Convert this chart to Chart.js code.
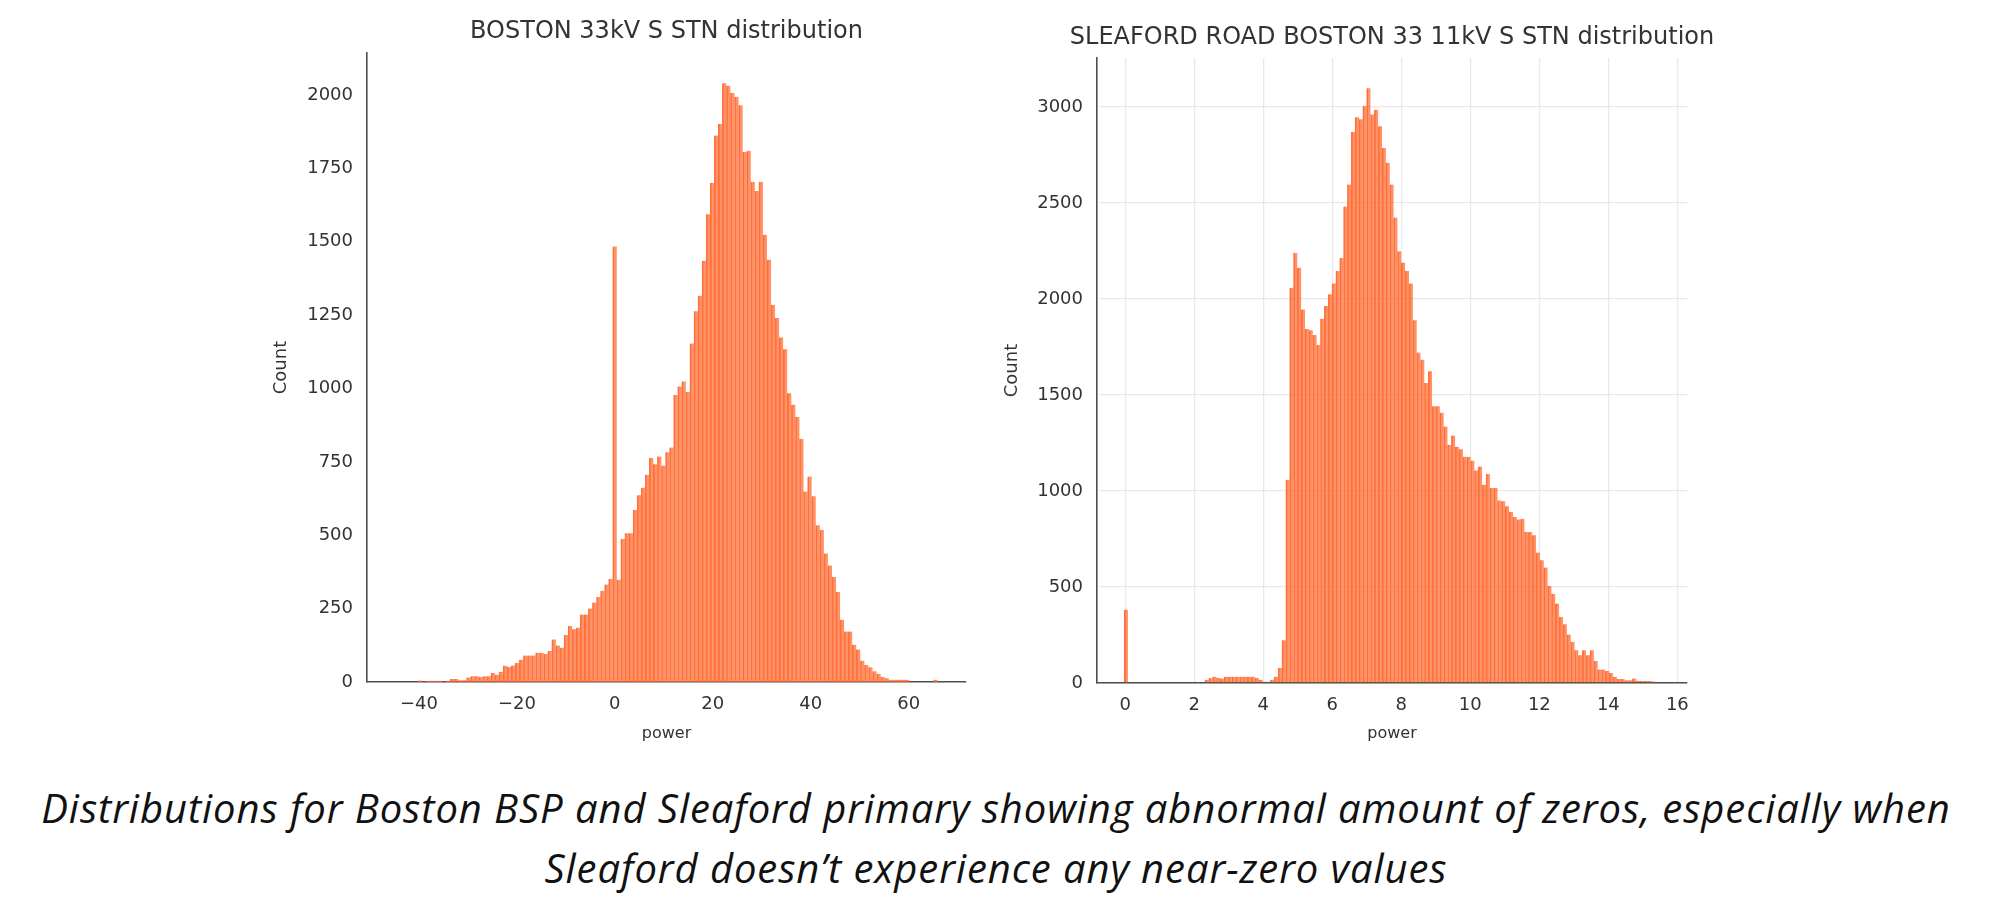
<!DOCTYPE html>
<html>
<head>
<meta charset="utf-8">
<script src="https://cdn.jsdelivr.net/npm/chart.js@4.4.0/dist/chart.umd.min.js"></script>
<style>
  html, body { margin: 0; padding: 0; background: #ffffff; width: 1992px; height: 912px; overflow: hidden; }
  #c1 { position: absolute; left: 240px; top: 0; }
  #c2 { position: absolute; left: 1000px; top: 0; }
  #caption { position: absolute; left: 0; top: 778px; width: 1992px; text-align: center;
             font-family: "Open Sans", "Noto Sans", sans-serif; font-style: italic; color: #111;
             line-height: 60px; white-space: nowrap; font-size: 40px; }
</style>
</head>
<body>
<canvas id="c1" width="760" height="760"></canvas>
<canvas id="c2" width="760" height="760"></canvas>
<div id="caption"><span id="cap1">Distributions for Boston BSP and Sleaford primary showing abnormal amount of zeros, especially when</span><br><span id="cap2">Sleaford doesn’t experience any near-zero values</span></div>
<script>
// ---------------- DATA ----------------
// Left histogram: BOSTON 33kV S STN (bins of equal width starting at bostonBinStart)
const bostonTitle = 'BOSTON 33kV S STN distribution';
const bostonBinStart = -40.22;
const bostonBinWidth = 0.829;
const bostonCounts = [
  5, 0, 4, 4, 4, 4, 1, 4, 10, 10,
  6, 6, 15, 20, 20, 17, 20, 20, 31, 25,
  35, 55, 51, 56, 65, 76, 90, 90, 90, 100,
  100, 95, 106, 145, 124, 117, 160, 191, 180, 185,
  230, 230, 250, 271, 290, 311, 332, 351, 1484, 348,
  487, 507, 507, 587, 636, 662, 706, 763, 742, 768,
  737, 783, 799, 978, 1007, 1024, 988, 1153, 1263, 1316,
  1435, 1594, 1700, 1862, 1901, 2040, 2031, 2007, 1994, 1965,
  1806, 1810, 1704, 1673, 1704, 1524, 1439, 1285, 1240, 1174,
  1134, 984, 945, 903, 828, 649, 700, 633, 534, 518,
  438, 397, 358, 307, 212, 172, 172, 127, 111, 72,
  58, 50, 37, 27, 17, 13, 8, 8, 8, 8,
  8, 0, 0, 0, 0, 0, 0, 8
];
const bostonXTicks = [-40, -20, 0, 20, 40, 60];
const bostonYTicks = [0, 250, 500, 750, 1000, 1250, 1500, 1750, 2000];

// Right histogram: SLEAFORD ROAD BOSTON 33 11kV S STN
const sleafordTitle = 'SLEAFORD ROAD BOSTON 33 11kV S STN distribution';
const sleafordBinStart = -0.035;
const sleafordBinWidth = 0.1116;
const sleafordCounts = [
  382, 0, 0, 0, 0, 0, 0, 0, 0, 0,
  0, 0, 0, 0, 0, 0, 0, 0, 0, 0,
  0, 17, 26, 33, 26, 23, 33, 33, 33, 33,
  33, 33, 33, 33, 26, 17, 7, 7, 17, 33,
  78, 222, 1059, 2058, 2240, 2163, 1945, 1844, 1837, 1812,
  1761, 1897, 1964, 2025, 2081, 2146, 2213, 2481, 2596, 2870,
  2947, 2936, 3005, 3098, 2961, 2985, 2900, 2786, 2709, 2596,
  2424, 2248, 2190, 2146, 2081, 1889, 1721, 1684, 1563, 1624,
  1441, 1441, 1407, 1336, 1241, 1289, 1230, 1218, 1178, 1178,
  1158, 1107, 1127, 1032, 1089, 1016, 1016, 951, 946, 920,
  890, 865, 851, 856, 787, 787, 769, 679, 639, 601,
  505, 465, 414, 344, 306, 252, 214, 170, 144, 170,
  144, 170, 115, 70, 70, 63, 52, 31, 21, 21,
  14, 14, 23, 12, 10, 10, 10, 8
];
const sleafordXTicks = [0, 2, 4, 6, 8, 10, 12, 14, 16];
const sleafordYTicks = [0, 500, 1000, 1500, 2000, 2500, 3000];

const xLabel = 'power';
const yLabel = 'Count';

// ---------------- STYLE ----------------
const barFill = 'rgba(255,104,46,0.72)';
const barEdge = 'rgba(255,100,40,0.9)';
const textColor = '#333333';
const spineColor = '#4d4d4d';
const tickFont = { family: 'DejaVu Sans', size: 18 };
const xLabelFont = { family: 'DejaVu Sans', size: 16 };
const yLabelFont = { family: 'DejaVu Sans', size: 18 };
const titleFont = '24px "DejaVu Sans"';

function toPoints(start, width, counts) {
  return counts.map((c, i) => ({ x: start + (i + 0.5) * width, y: c }));
}
function fmtTick(v) {
  return v < 0 ? '\u2212' + Math.abs(v) : String(v);
}

const areaTitle = {
  id: 'areaTitle',
  afterDraw(chart, args, opts) {
    const { ctx, chartArea } = chart;
    ctx.save();
    ctx.font = opts.font;
    ctx.fillStyle = opts.color;
    ctx.textAlign = 'center';
    ctx.textBaseline = 'middle';
    ctx.fillText(opts.text, (chartArea.left + chartArea.right) / 2, opts.y);
    ctx.restore();
  }
};

function makeChart(canvasId, cfg) {
  return new Chart(document.getElementById(canvasId), {
    type: 'bar',
    data: {
      datasets: [{
        data: toPoints(cfg.binStart, cfg.binWidth, cfg.counts),
        backgroundColor: barFill,
        borderColor: barEdge,
        borderWidth: { left: 1, right: 0, top: 0, bottom: 0 },
        borderSkipped: false,
        barPercentage: 1.0,
        categoryPercentage: 1.0
      }]
    },
    options: {
      responsive: false,
      animation: false,
      devicePixelRatio: 1,
      layout: { padding: cfg.padding },
      plugins: {
        legend: { display: false },
        tooltip: { enabled: false },
        title: { display: false },
        areaTitle: { text: cfg.title, y: cfg.titleY, font: titleFont, color: textColor }
      },
      scales: {
        x: {
          type: 'linear',
          min: cfg.xMin, max: cfg.xMax,
          offset: false,
          grid: { display: cfg.grid, color: '#e9e9e9', lineWidth: 1.3, drawTicks: false, offset: false },
          border: { display: true, color: spineColor, width: 1.6 },
          ticks: { color: textColor, font: tickFont, padding: 12, maxRotation: 0, autoSkip: false, callback: fmtTick },
          afterBuildTicks: s => { s.ticks = cfg.xTicks.map(v => ({ value: v })); },
          afterFit: s => { s.height = cfg.xAxisHeight; },
          title: { display: true, text: xLabel, color: textColor, font: xLabelFont, padding: { top: 0, bottom: 17 } }
        },
        y: {
          type: 'linear',
          min: 0, max: cfg.yMax,
          grid: { display: cfg.grid, color: '#e9e9e9', lineWidth: 1.3, drawTicks: false },
          border: { display: true, color: spineColor, width: 1.6 },
          ticks: { color: textColor, font: tickFont, padding: 14, autoSkip: false, callback: fmtTick },
          afterBuildTicks: s => { s.ticks = cfg.yTicks.map(v => ({ value: v })); },
          afterFit: s => { s.width = cfg.yAxisWidth; },
          title: { display: true, text: yLabel, color: textColor, font: yLabelFont, padding: { top: cfg.yTitlePad, bottom: 0 } }
        }
      }
    },
    plugins: [areaTitle]
  });
}

makeChart('c1', {
  title: bostonTitle, titleY: 32,
  binStart: bostonBinStart, binWidth: bostonBinWidth, counts: bostonCounts,
  xTicks: bostonXTicks, yTicks: bostonYTicks,
  xMin: -50.6, xMax: 71.7, yMax: 2143, grid: false,
  padding: { left: 0, right: 34, top: 53, bottom: 0 },
  xAxisHeight: 78, yAxisWidth: 127, yTitlePad: 31
});

makeChart('c2', {
  title: sleafordTitle, titleY: 38,
  binStart: sleafordBinStart, binWidth: sleafordBinWidth, counts: sleafordCounts,
  xTicks: sleafordXTicks, yTicks: sleafordYTicks,
  xMin: -0.82, xMax: 16.28, yMax: 3255, grid: true,
  padding: { left: 0, right: 73, top: 58, bottom: 0 },
  xAxisHeight: 77, yAxisWidth: 97, yTitlePad: 2
});

// Caption: widen the first line to the reference width with letter spacing
(function () {
  const cap = document.getElementById('caption');
  const t1 = document.getElementById('cap1').textContent;
  const c = document.createElement('canvas').getContext('2d');
  c.font = 'italic 40px "Open Sans"';
  const w = c.measureText(t1).width;
  const ls = Math.max(0, (1910 - w) / t1.length);
  cap.style.letterSpacing = ls.toFixed(2) + 'px';
})();
</script>
</body>
</html>
